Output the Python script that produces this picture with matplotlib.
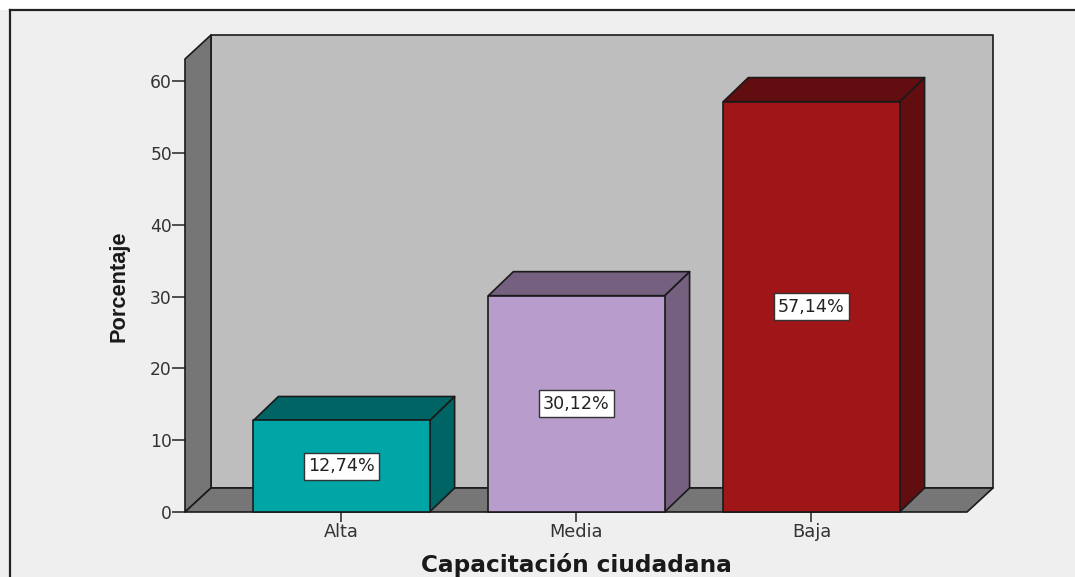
import matplotlib
matplotlib.use('Agg')
import matplotlib.pyplot as plt
from matplotlib.patches import Polygon, Rectangle
from matplotlib.lines import Line2D

plt.rcParams['font.family'] = ['DejaVu Sans']

categorias = ['Alta', 'Media', 'Baja']
porcentajes = [12.74, 30.12, 57.14]
etiquetas = ['12,74%', '30,12%', '57,14%']
yticks = [0, 10, 20, 30, 40, 50, 60]

frente = ['#00a6a6', '#b89ccb', '#a01517']
oscuro = ['#006464', '#75607f', '#620d0f']
borde = '#1a1a1a'

W, H = 1075, 577
fig = plt.figure(figsize=(W / 100, H / 100), dpi=100, facecolor='#efefef')

# ejes en el plano frontal de la caja 3D
ax = fig.add_axes([185 / W, 1 - 512 / H, 782 / W, 453 / H])
ax.patch.set_visible(False)
for s in ax.spines.values():
    s.set_visible(False)

ax.set_xlim(-0.666, 2.662)
ax.set_ylim(0, 63.07)
ymax = 63.07
xmin, xmax = -0.666, 2.662

# profundidad en unidades de datos
dx = 26 / 235
dy = 24 / 7.183
dx_barra = 25 / 235
lw = 1.2


def poligono(puntos, color, z):
    ax.add_patch(Polygon(puntos, closed=True, facecolor=color, edgecolor=borde,
                         linewidth=lw, clip_on=False, zorder=z, joinstyle='round'))


# pared del fondo, pared izquierda y piso
poligono([(xmin + dx, dy), (xmax + dx, dy), (xmax + dx, ymax + dy), (xmin + dx, ymax + dy)], '#bebebe', 1)
poligono([(xmin, 0), (xmin + dx, dy), (xmin + dx, ymax + dy), (xmin, ymax)], '#767676', 2)
poligono([(xmin, 0), (xmax, 0), (xmax + dx, dy), (xmin + dx, dy)], '#767676', 2)

# barras
ancho = 0.75
for i, v in enumerate(porcentajes):
    x0, x1 = i - ancho / 2, i + ancho / 2
    poligono([(x1, 0), (x1 + dx_barra, dy), (x1 + dx_barra, v + dy), (x1, v)], oscuro[i], 3)
    poligono([(x0, v), (x1, v), (x1 + dx_barra, v + dy), (x0 + dx_barra, v + dy)], oscuro[i], 3)
    poligono([(x0, 0), (x1, 0), (x1, v), (x0, v)], frente[i], 4)
    ax.text(i, v / 2, etiquetas[i], ha='center', va='center', fontsize=12.6, color='#222222', zorder=5,
            bbox=dict(boxstyle='square,pad=0.25', facecolor='white', edgecolor='#333333', linewidth=1))

ax.set_xticks(range(len(categorias)))
ax.set_xticklabels(categorias)
ax.set_yticks(yticks)
ax.tick_params(axis='y', length=9.4, width=1.2, color='#333333', labelcolor='#333333', labelsize=12.3, pad=0)
ax.tick_params(axis='x', length=7.2, width=1.2, color='#333333', labelcolor='#333333', labelsize=12.8, pad=1)

fig.text(576 / W, 1 - 565 / H, 'Capacitación ciudadana', ha='center', va='center',
         fontsize=16.7, fontweight='bold', color='#1a1a1a')
fig.text(119 / W, 1 - 286 / H, 'Porcentaje', ha='center', va='center', rotation=90,
         fontsize=15.7, fontweight='bold', color='#1a1a1a', family=['Liberation Sans'])

# marco exterior de la imagen
fig.add_artist(Rectangle((0, 1 - 10 / H), 1, 10 / H, transform=fig.transFigure, facecolor='white', edgecolor='none'))
fig.add_artist(Line2D([10 / W, 10 / W], [0, 1 - 10 / H], color='#222222', linewidth=1.6))
fig.add_artist(Line2D([10 / W, 1], [1 - 10 / H, 1 - 10 / H], color='#222222', linewidth=1.6))

fig.savefig('out.png', dpi=100, facecolor=fig.get_facecolor())
